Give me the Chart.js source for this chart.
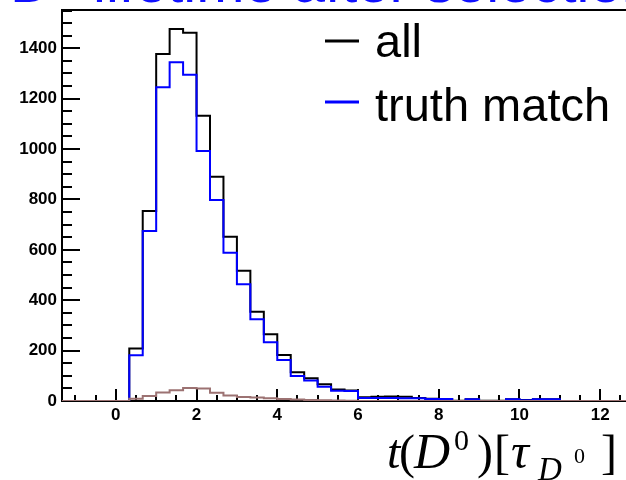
<!DOCTYPE html>
<html>
<head>
<meta charset="utf-8">
<script src="https://cdn.jsdelivr.net/npm/chart.js@4/dist/chart.umd.min.js"></script>
<style>
  html, body { margin: 0; padding: 0; background: #fff; overflow: hidden; }
  #wrap { width: 626px; height: 480px; overflow: hidden; }
  #wrap canvas { display: block; }
</style>
</head>
<body>
<div id="wrap"><canvas id="tlife" width="680" height="480"></canvas></div>
<script>
// decay time binning, in units of the D0 lifetime
const binLow = -4 / 3;
const binWidth = 1 / 3;

// bin contents, one entry per bin starting at binLow
const allCounts = [0, 0, 0, 0, 0, 208, 754, 1377, 1477, 1462, 1132, 890, 652, 517, 354, 265,
  183, 114, 90, 66, 46, 42, 15, 17, 18, 17, 12, 9, 8, 1, 7, 1, 1, 7, 4, 7, 7, 0, 0, 0, 0, 0, 0, 0];
const truthCounts = [0, 0, 0, 0, 0, 182, 675, 1245, 1345, 1295, 992, 798, 588, 463, 324, 233,
  163, 99, 81, 57, 41, 40, 12, 12, 12, 11, 11, 8, 8, 0, 7, 0, 0, 7, 3, 7, 7, 0, 0, 0, 0, 0, 0, 0];
const otherCounts = [0, 0, 0, 0, 0, 9, 20, 34, 43, 52, 50, 33, 22, 16, 14, 11,
  8, 6, 4, 3, 2, 1, 0, 0, 0, 0, 0, 0, 0, 0, 0, 0, 0, 0, 0, 0, 0, 0, 0, 0, 0, 0, 0, 0];

const xTickValues = [0, 2, 4, 6, 8, 10, 12];
const yTickValues = [0, 200, 400, 600, 800, 1000, 1200, 1400];
const yTop = 1552;

// histogram outline: one point per upper bin edge, starting from the first lower edge
function histPoints(counts) {
  const pts = [{ x: binLow, y: 0 }];
  counts.forEach((c, i) => pts.push({ x: binLow + (i + 1) * binWidth, y: c }));
  return pts;
}
const xHigh = binLow + allCounts.length * binWidth;

// draws text so that its ink starts at x
function inkText(ctx, s, font, x, y) {
  ctx.font = font;
  const m = ctx.measureText(s);
  ctx.fillText(s, x + m.actualBoundingBoxLeft, y);
}

// ROOT style frame with inward ticks
const rootFrame = {
  id: 'rootFrame',
  beforeDatasetsDraw(chart) {
    const { ctx, chartArea: a, scales: { x, y } } = chart;
    ctx.save();
    ctx.strokeStyle = '#000';
    ctx.lineWidth = 2;
    ctx.beginPath();
    for (let k = -2; k <= 26; k++) {
      const px = Math.round(x.getPixelForValue(k * 0.5));
      const len = k % 4 === 0 ? 12 : 6;
      ctx.moveTo(px, a.bottom);
      ctx.lineTo(px, a.bottom - len);
    }
    for (let k = 1; k * 50 < yTop; k++) {
      const py = Math.round(y.getPixelForValue(k * 50));
      const len = k % 4 === 0 ? 18 : 10;
      ctx.moveTo(a.left, py);
      ctx.lineTo(a.left + len, py);
    }
    ctx.stroke();
    ctx.strokeRect(a.left, a.top, a.right - a.left, a.bottom - a.top);
    ctx.restore();
  },
  afterDraw(chart) {
    const ctx = chart.ctx;
    ctx.save();
    ctx.textBaseline = 'alphabetic';
    ctx.textAlign = 'left';

    // title, mostly above the visible area
    ctx.fillStyle = '#1010ff';
    inkText(ctx, 'D\u2070', '58px "Liberation Sans"', 14, 2);
    inkText(ctx, 'lifetime after selection', '58px "Liberation Sans"', 96, 2);

    // legend
    const entries = [chart.data.datasets[2], chart.data.datasets[1]];
    const baselines = [57, 121];
    const lineY = [41, 102];
    ctx.font = '47px "Liberation Sans"';
    entries.forEach((ds, i) => {
      ctx.strokeStyle = ds.borderColor;
      ctx.lineWidth = 3;
      ctx.beginPath();
      ctx.moveTo(325, lineY[i]);
      ctx.lineTo(359, lineY[i]);
      ctx.stroke();
      ctx.fillStyle = '#000';
      ctx.fillText(ds.label, 375, baselines[i]);
    });

    // axis title t(D^0)[tau_{D^0}]
    ctx.fillStyle = '#000';
    const it = 'italic 48px "Liberation Serif"';
    const rm = '48px "Liberation Serif"';
    inkText(ctx, 't', it, 389, 468);
    inkText(ctx, '(', rm, 401, 468);
    inkText(ctx, 'D', 'italic 50px "Liberation Serif"', 413, 468);
    inkText(ctx, '0', '30px "Liberation Serif"', 455, 450);
    inkText(ctx, ')', rm, 478, 468);
    inkText(ctx, '[', rm, 497, 468);
    inkText(ctx, '\u03c4', 'italic 50px "Liberation Serif"', 512, 468);
    inkText(ctx, 'D', 'italic 33px "Liberation Serif"', 537, 480);
    inkText(ctx, '0', '22px "Liberation Serif"', 574, 463);
    inkText(ctx, ']', rm, 602, 468);
    ctx.restore();
  }
};

const tickFont = { family: '"Liberation Sans"', size: 17, weight: 'bold' };

new Chart(document.getElementById('tlife'), {
  type: 'line',
  data: {
    datasets: [
      {
        label: 'not matched',
        data: histPoints(otherCounts),
        borderColor: '#9c7272',
        order: 0
      },
      {
        label: 'truth match',
        data: histPoints(truthCounts),
        borderColor: '#0000ff',
        order: 1
      },
      {
        label: 'all',
        data: histPoints(allCounts),
        borderColor: '#000000',
        order: 2
      }
    ]
  },
  options: {
    responsive: false,
    animation: false,
    devicePixelRatio: 1,
    layout: { padding: { top: 10, right: 26, left: 0, bottom: 0 } },
    datasets: {
      line: { stepped: 'after', borderWidth: 2, pointRadius: 0, fill: false, tension: 0 }
    },
    scales: {
      x: {
        type: 'linear',
        min: binLow,
        max: xHigh,
        grid: { display: false, drawTicks: false },
        border: { display: false },
        afterBuildTicks: s => { s.ticks = xTickValues.map(v => ({ value: v })); },
        afterFit: s => { s.height = 79; s.paddingLeft = 0; s.paddingRight = 0; },
        ticks: { font: tickFont, color: '#000', padding: 4, maxRotation: 0, autoSkip: false,
          callback: v => String(v) }
      },
      y: {
        min: 0,
        max: yTop,
        grid: { display: false, drawTicks: false },
        border: { display: false },
        afterBuildTicks: s => { s.ticks = yTickValues.map(v => ({ value: v })); },
        afterFit: s => { s.width = 62; s.paddingTop = 0; s.paddingBottom = 0; },
        ticks: { font: tickFont, color: '#000', padding: 5, autoSkip: false,
          callback: v => String(v) }
      }
    },
    plugins: {
      legend: { display: false },
      tooltip: { enabled: false }
    }
  },
  plugins: [rootFrame]
});
</script>
</body>
</html>
